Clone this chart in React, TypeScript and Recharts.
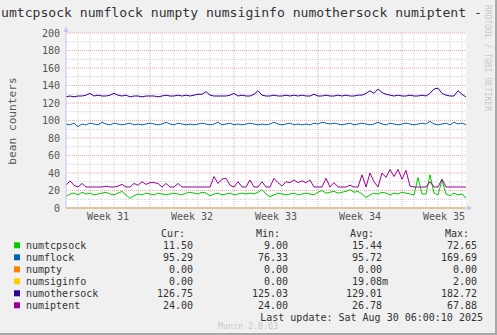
import { LineChart, Line, XAxis, YAxis, CartesianGrid, ReferenceLine } from "recharts"

// samples every 8 hours
const numtcpsock = [
  13, 16, 17, 15, 18, 16, 17, 15, 16, 17,
  18, 16, 15, 17, 19, 15, 11, 14, 16, 15,
  17, 16, 15, 17, 16, 15, 16, 17, 16, 15,
  17, 18, 17, 16, 18, 17, 14, 16, 17, 15,
  16, 17, 15, 16, 17, 16, 17, 16, 18, 21,
  16, 13, 15, 17, 16, 15, 16, 17, 15, 16,
  17, 16, 15, 18, 20, 17, 18, 19, 17, 18,
  19, 21, 18, 19, 16, 12, 15, 17, 16, 18,
  17, 15, 17, 16, 18, 17, 16, 15, 35, 16,
  16, 38, 17, 15, 32, 16, 14, 17, 15, 16,
  11.5,
]
const numflock = [
  96, 95, 97, 93, 96, 95, 97, 96, 95, 98,
  96, 95, 97, 96, 95, 96, 97, 95, 96, 95,
  96, 97, 96, 95, 96, 98, 96, 95, 97, 96,
  95, 96, 95, 96, 97, 96, 95, 96, 98, 95,
  96, 97, 95, 96, 95, 96, 97, 96, 95, 96,
  95, 96, 98, 96, 95, 96, 97, 95, 96, 95,
  96, 95, 97, 96, 98, 97, 96, 97, 96, 95,
  96, 97, 95, 96, 97, 96, 95, 96, 98, 96,
  95, 97, 96, 95, 96, 97, 96, 95, 96, 97,
  96, 99, 96, 95, 96, 97, 95, 98, 96, 97,
  95.29,
]
const numpty = [
  0, 0, 0, 0, 0, 0, 0, 0, 0, 0,
  0, 0, 0, 0, 0, 0, 0, 0, 0, 0,
  0, 0, 0, 0, 0, 0, 0, 0, 0, 0,
  0, 0, 0, 0, 0, 0, 0, 0, 0, 0,
  0, 0, 0, 0, 0, 0, 0, 0, 0, 0,
  0, 0, 0, 0, 0, 0, 0, 0, 0, 0,
  0, 0, 0, 0, 0, 0, 0, 0, 0, 0,
  0, 0, 0, 0, 0, 0, 0, 0, 0, 0,
  0, 0, 0, 0, 0, 0, 0, 0, 0, 0,
  0, 0, 0, 0, 0, 0, 0, 0, 0, 0,
  0,
]
const numsiginfo = [
  0, 0, 0, 0, 0, 0, 0, 0, 0, 0,
  0, 0, 0, 0, 0, 0, 0, 0, 0, 0,
  0, 0, 0, 0, 0, 0, 0, 0, 0, 0,
  0, 0, 0, 0, 0, 0, 0, 0, 0, 0,
  0, 0, 0, 0, 0, 0, 0, 0, 0, 0,
  0, 0, 0, 0, 0, 0, 0, 0, 0, 0,
  0, 0, 0, 0, 0, 0, 0, 0, 0, 0,
  0, 0, 0, 0, 0, 0, 0, 0, 0, 0,
  0, 0, 0, 0, 0, 0, 0, 0, 0, 0,
  0, 0, 0, 0, 0, 0, 0, 0, 0, 0,
  0,
]
const numothersock = [
  127, 128, 127, 128, 128, 129, 131, 128, 129, 128,
  128, 129, 131, 129, 128, 129, 127, 128, 128, 127,
  128, 128, 128, 127, 128, 129, 128, 128, 129, 128,
  129, 128, 129, 130, 130, 133, 129, 128, 128, 128,
  128, 129, 131, 128, 129, 128, 128, 130, 134, 129,
  128, 128, 129, 128, 128, 129, 128, 129, 128, 129,
  128, 128, 130, 128, 128, 129, 128, 128, 129, 128,
  129, 128, 128, 129, 129, 131, 134, 131, 136, 132,
  130, 129, 128, 129, 128, 128, 129, 128, 128, 129,
  128, 131, 136, 137, 131, 129, 128, 128, 134, 130,
  126.75,
]
const numiptent = [
  26, 31, 26, 24, 28, 24, 24, 24, 24, 24,
  25, 24, 24, 25, 27, 24, 24, 28, 26, 30,
  27, 29, 29, 28, 24, 28, 24, 24, 28, 24,
  24, 24, 24, 24, 24, 24, 24, 36, 28, 33,
  34, 26, 24, 30, 24, 24, 32, 24, 24, 30,
  24, 24, 34, 29, 25, 30, 29, 32, 29, 31,
  29, 32, 24, 24, 24, 34, 24, 29, 24, 24,
  24, 26, 24, 24, 38, 24, 40, 30, 24, 40,
  35, 44, 36, 44, 33, 43, 25, 24, 24, 24,
  24, 30, 24, 24, 33, 24, 24, 24, 24, 24,
  24,
]

const stepHours = 8
const seriesNames = ["numtcpsock", "numflock", "numpty", "numsiginfo", "numothersock", "numiptent"]
const seriesColors = ["#00cc00", "#0066b3", "#ff8000", "#ffcc00", "#330099", "#990099"]
const curValues = ["11.50", "95.29", "0.00", "0.00", "126.75", "24.00"]
const minValues = ["9.00", "76.33", "0.00", "0.00", "125.03", "24.00"]
const avgValues = ["15.44", "95.72", "0.00", "19.08m", "129.01", "26.78"]
const maxValues = ["72.65", "169.69", "0.00", "2.00", "182.72", "67.88"]

const yTicks = [0, 20, 40, 60, 80, 100, 120, 140, 160, 180, 200]
const yMinor = [10, 30, 50, 70, 90, 110, 130, 150, 170, 190]
const weekTicks = [84, 252, 420, 588, 756]
const weekLabels = ["Week 31", "Week 32", "Week 33", "Week 34", "Week 35"]
const weekLines = [168, 336, 504, 672]
const dayLines = [
  24, 48, 72, 96, 120, 144, 192, 216, 240, 264, 288, 312, 360, 384, 408, 432, 456, 480,
  528, 552, 576, 600, 624, 648, 696, 720, 744, 768, 792,
]

const data = numtcpsock.map((v, i) => ({
  t: i * stepHours,
  numtcpsock: v,
  numflock: numflock[i],
  numpty: numpty[i],
  numsiginfo: numsiginfo[i],
  numothersock: numothersock[i],
  numiptent: numiptent[i],
}))

const mono = "'DejaVu Sans Mono', monospace"
const minorColor = "#d0d0d0"
const majorColor = "#f0a8a8"
const axisColor = "#c4c4f4"

function Legend() {
  const cols = [
    { head: "Cur:", headX: 185, x: 193, vals: curValues },
    { head: "Min:", headX: 280, x: 288, vals: minValues },
    { head: "Avg:", headX: 374, x: 382, vals: avgValues },
    { head: "Max:", headX: 469, x: 477, vals: maxValues },
  ]
  return (
    <g fontFamily={mono} fontSize={10} fill="#333">
      {cols.map((c) => (
        <text key={c.head} x={c.headX} y={236.5} textAnchor="end">{c.head}</text>
      ))}
      {seriesNames.map((name, i) => {
        const cy = 245.3 + i * 12
        return (
          <g key={name}>
            <rect x={14} y={cy - 3} width={6} height={6} fill={seriesColors[i]} />
            <text x={26} y={cy + 3.5}>{name}</text>
            {cols.map((c) => {
              const v = c.vals[i]
              const unit = /[a-z]$/.test(v)
              return (
                <text key={c.head} x={c.x + (unit ? 6 : 0)} y={cy + 3.5} textAnchor="end">{v}</text>
              )
            })}
          </g>
        )
      })}
      <text x={483} y={320.5} textAnchor="end">Last update: Sat Aug 30 06:00:10 2025</text>
    </g>
  )
}

export default function App() {
  return (
    <div style={{ position: "absolute", left: 0, top: 0, width: 497, height: 335, background: "#f0f0f0", overflow: "hidden" }}>
      <div style={{ position: "absolute", left: 0, top: 0 }}>
        <LineChart width={497} height={335} data={data} margin={{ top: 33, right: 31, bottom: 107, left: 0 }}>
          <CartesianGrid fill="#ffffff" horizontal={false} vertical={false} />
          {yMinor.map((v) => (
            <ReferenceLine key={"ym" + v} y={v} stroke={minorColor} strokeDasharray="1 1" />
          ))}
          {dayLines.map((v) => (
            <ReferenceLine key={"d" + v} x={v} stroke={minorColor} strokeDasharray="1 1" />
          ))}
          {yTicks.slice(1).map((v) => (
            <ReferenceLine key={"yM" + v} y={v} stroke={majorColor} strokeDasharray="1 1" />
          ))}
          {weekLines.map((v) => (
            <ReferenceLine key={"w" + v} x={v} stroke={majorColor} strokeDasharray="1 1" />
          ))}
          <XAxis
            dataKey="t"
            type="number"
            domain={[0, 800]}
            ticks={weekTicks}
            tickFormatter={(v: number) => weekLabels[weekTicks.indexOf(v)] ?? ""}
            height={20}
            tickLine={false}
            tickSize={5}
            tickMargin={0}
            axisLine={{ stroke: axisColor }}
            tick={{ fill: "#555", fontSize: 10, fontFamily: mono }}
            interval={0}
          />
          <YAxis
            type="number"
            domain={[0, 200]}
            ticks={yTicks}
            width={66}
            tickLine={false}
            tickSize={6}
            tickMargin={0}
            axisLine={{ stroke: axisColor }}
            tick={{ fill: "#555", fontSize: 10, fontFamily: mono }}
            interval={0}
          />
          {seriesNames.map((name, i) => (
            <Line
              key={name}
              type="linear"
              dataKey={name}
              stroke={seriesColors[i]}
              strokeWidth={1}
              dot={false}
              isAnimationActive={false}
            />
          ))}
        </LineChart>
      </div>
      <svg width={497} height={335} style={{ position: "absolute", left: 0, top: 0, pointerEvents: "none" }}>
        <text x={1} y={17} fontFamily={mono} fontSize={13.1} fill="#333">
          umtcpsock numflock numpty numsiginfo numothersock numiptent -
        </text>
        <text
          x={12}
          y={121}
          transform="rotate(-90 12 121)"
          textAnchor="middle"
          dominantBaseline="central"
          fontFamily={mono}
          fontSize={11.2}
          fill="#555"
        >
          bean counters
        </text>
        <text
          x={485}
          y={5}
          transform="rotate(90 485 5)"
          fontFamily={mono}
          fontSize={8}
          fill="#c8c8c8"
        >
          RRDTOOL / TOBI OETIKER
        </text>
        <polygon points="63.5,32 68.5,32 66,26.5" fill={axisColor} />
        <polygon points="467,205.5 467,210.5 472.5,208" fill={axisColor} />
        <Legend />
        <text x={248} y={328.5} textAnchor="middle" fontFamily={mono} fontSize={8.3} fill="#c8c8c8">
          Munin 2.0.63
        </text>
        <rect x={0} y={333} width={497} height={2} fill="#a8a8a8" />
        <rect x={495} y={0} width={2} height={335} fill="#a8a8a8" />
      </svg>
    </div>
  )
}
